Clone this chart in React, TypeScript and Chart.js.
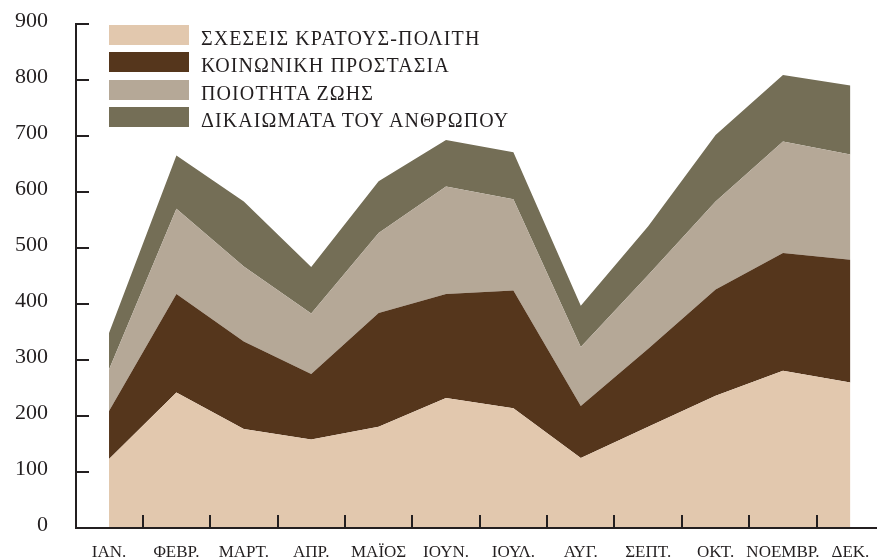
import React, { useEffect, useRef } from 'react';
import { Chart, registerables } from 'chart.js';

Chart.register(...registerables);

const months = ['ΙΑΝ.', 'ΦΕΒΡ.', 'ΜΑΡΤ.', 'ΑΠΡ.', 'ΜΑΪΟΣ', 'ΙΟΥΝ.', 'ΙΟΥΛ.', 'ΑΥΓ.', 'ΣΕΠΤ.', 'ΟΚΤ.', 'ΝΟΕΜΒΡ.', 'ΔΕΚ.'];

const seriesNames = ['ΣΧΕΣΕΙΣ ΚΡΑΤΟΥΣ-ΠΟΛΙΤΗ', 'ΚΟΙΝΩΝΙΚΗ ΠΡΟΣΤΑΣΙΑ', 'ΠΟΙΟΤΗΤΑ ΖΩΗΣ', 'ΔΙΚΑΙΩΜΑΤΑ ΤΟΥ ΑΝΘΡΩΠΟΥ'];

const stateCitizenRelations = [123, 242, 177, 158, 181, 232, 214, 125, 181, 236, 281, 260];
const socialProtection = [86, 176, 156, 117, 203, 186, 210, 93, 139, 190, 210, 219];
const qualityOfLife = [74, 152, 134, 108, 143, 192, 163, 105, 132, 157, 199, 188];
const humanRights = [65, 95, 116, 83, 92, 83, 84, 74, 87, 119, 119, 123];

const yTickValues = [0, 100, 200, 300, 400, 500, 600, 700, 800, 900];

const seriesColors = ['#E2C8AE', '#55361C', '#B5A897', '#746E56'];
const axisColor = '#231F20';
const fontFamily = "'Liberation Serif', 'Times New Roman', serif";

export default function App() {
  const canvasRef = useRef<HTMLCanvasElement | null>(null);

  useEffect(() => {
    if (!canvasRef.current) return;
    const allSeries = [stateCitizenRelations, socialProtection, qualityOfLife, humanRights];
    Chart.defaults.font.family = fontFamily;
    const chart = new Chart(canvasRef.current, {
      type: 'line',
      data: {
        datasets: allSeries.map((s, k) => ({
          label: seriesNames[k],
          data: s.map((v, i) => ({ x: i, y: v })),
          backgroundColor: seriesColors[k],
          borderColor: seriesColors[k],
          borderWidth: 0,
          pointRadius: 0,
          pointHoverRadius: 0,
          tension: 0,
          fill: k === 0 ? 'origin' : '-1',
        })),
      },
      options: {
        responsive: false,
        animation: false,
        events: [],
        layout: { padding: { top: 24, left: 0, right: 0, bottom: 0 } },
        plugins: {
          legend: { display: false },
          tooltip: { enabled: false },
        },
        scales: {
          x: {
            type: 'linear',
            min: -0.49,
            max: 11.395,
            afterBuildTicks: (scale: any) => {
              scale.ticks = months.map((_, i) => ({ value: i }));
            },
            afterFit: (scale: any) => {
              scale.height = 32;
              scale.paddingLeft = 0;
              scale.paddingRight = 0;
            },
            ticks: {
              callback: (v: any) => months[v] ?? '',
              autoSkip: false,
              maxRotation: 0,
              minRotation: 0,
              padding: 27,
              color: axisColor,
              font: { size: 17, family: fontFamily },
              z: 1,
            },
            grid: {
              z: 1,
              offset: true,
              drawOnChartArea: false,
              drawTicks: true,
              tickLength: -13,
              tickWidth: 2,
              tickColor: axisColor,
              lineWidth: 2,
              color: axisColor,
            },
            border: { display: true, color: axisColor, width: 2, z: 1 },
          },
          y: {
            stacked: true,
            min: 0,
            max: 900,
            afterBuildTicks: (scale: any) => {
              scale.ticks = yTickValues.map((v) => ({ value: v }));
            },
            afterFit: (scale: any) => {
              scale.width = 76;
              scale.paddingTop = 0;
              scale.paddingBottom = 0;
            },
            ticks: {
              padding: 41,
              labelOffset: -3,
              color: axisColor,
              font: { size: 22, family: fontFamily },
              z: 1,
            },
            grid: {
              z: 1,
              drawOnChartArea: false,
              drawTicks: true,
              tickLength: -13,
              tickWidth: 2,
              tickColor: axisColor,
              lineWidth: 2,
              color: axisColor,
            },
            border: { display: true, color: axisColor, width: 2, z: 1 },
          },
        },
      },
    } as any);
    return () => chart.destroy();
  }, []);

  return (
    <div style={{ position: 'absolute', left: 0, top: 0, width: 877, height: 560, background: '#fff' }}>
      <canvas ref={canvasRef} width={877} height={560} style={{ display: 'block' }} />
      {seriesNames.map((name, k) => (
        <div key={name} style={{ position: 'absolute', left: 109, top: 25 + k * 27.3, height: 20, width: 420 }}>
          <div style={{ position: 'absolute', left: 0, top: 0, width: 80, height: 20, background: seriesColors[k] }} />
          <span
            style={{
              position: 'absolute',
              left: 92,
              top: 3,
              fontFamily,
              fontSize: 20,
              letterSpacing: '1.1px',
              lineHeight: '20px',
              color: axisColor,
              whiteSpace: 'nowrap',
            }}
          >
            {name}
          </span>
        </div>
      ))}
    </div>
  );
}
